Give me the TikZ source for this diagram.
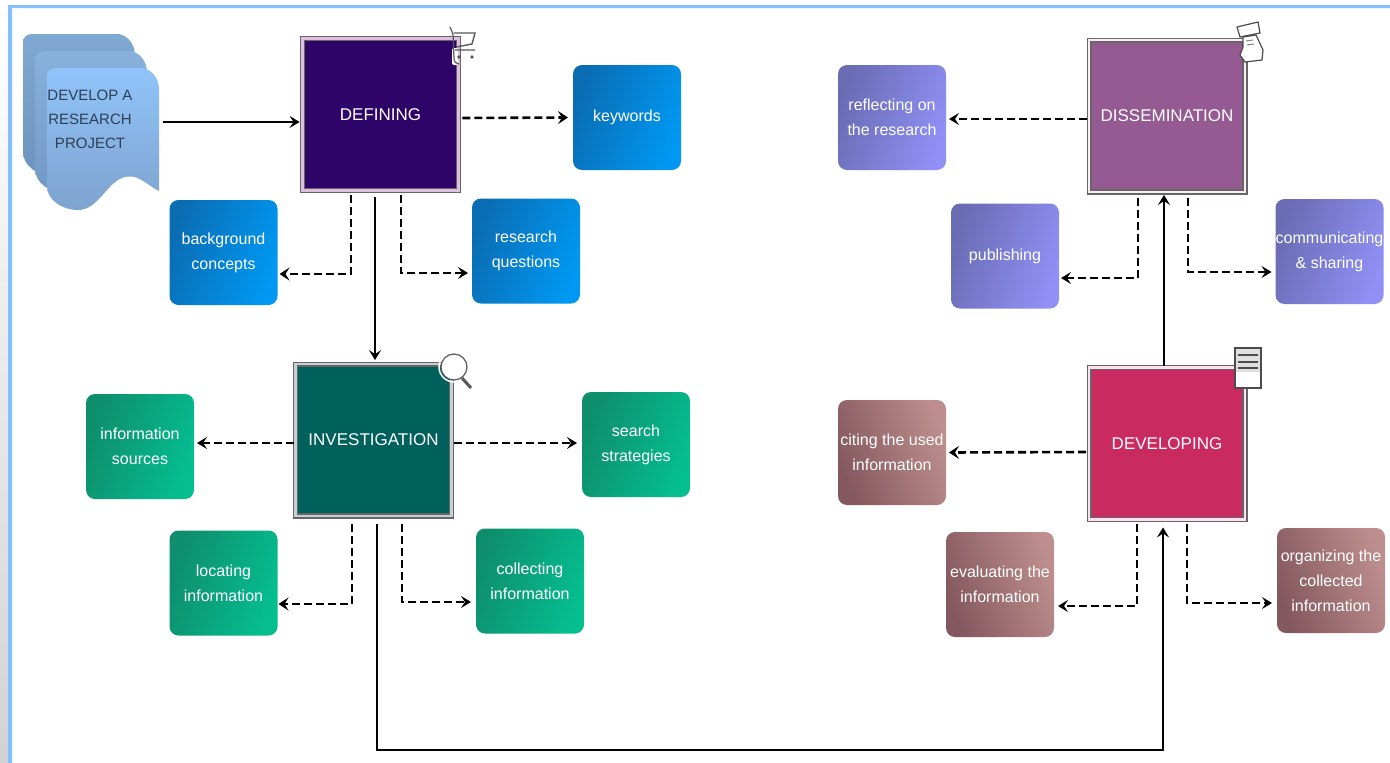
\documentclass[tikz,border=0pt]{standalone}
\usepackage{fontspec}
\setmainfont{Liberation Sans}
\usetikzlibrary{arrows.meta}
\definecolor{edgeblue}{HTML}{85BFFF}
\definecolor{definefill}{HTML}{2F0468}
\definecolor{investfill}{HTML}{00605C}
\definecolor{dissemfill}{HTML}{965A92}
\definecolor{developfill}{HTML}{C92A60}
\definecolor{projecttext}{HTML}{2F3F55}
\definecolor{blueA}{HTML}{0A6DB4}
\definecolor{blueB}{HTML}{0098F2}
\definecolor{greenA}{HTML}{0E8E6C}
\definecolor{greenB}{HTML}{05BE90}
\definecolor{purpleA}{HTML}{6A6CB4}
\definecolor{purpleB}{HTML}{9090F5}
\definecolor{brownA}{HTML}{84585F}
\definecolor{brownB}{HTML}{BD8E8D}
\tikzset{
  stage/.style={draw=gray!80!black,line width=1.3pt,double distance=2.6pt,inner sep=0pt,outer sep=0pt,
    minimum width=155.8pt,minimum height=151.8pt,text=white,font={\fontsize{17}{20}\selectfont}},
  task/.style={rounded corners=9pt,inner sep=0pt,outer sep=0pt,minimum width=108pt,minimum height=105pt,
    align=center,text=white,font={\fontsize{16}{25}\selectfont}},
  bluetask/.style={task,left color=blueA,right color=blueB,shading angle=70},
  greentask/.style={task,left color=greenA,right color=greenB,shading angle=70},
  purpletask/.style={task,left color=purpleA,right color=purpleB,shading angle=70},
  browntask/.style={task,left color=brownA,right color=brownB,shading angle=110},
  mainline/.style={draw=black,line width=2pt,arrows={-Stealth[length=10pt,width=12pt,inset=4pt]}},
  dashthin/.style={draw=black,line width=1.7pt,dash pattern=on 8pt off 4pt,arrows={-Stealth[length=10pt,width=12pt,inset=4pt]}},
  dashthick/.style={draw=black,line width=2.6pt,dash pattern=on 8pt off 4pt,arrows={-Stealth[length=10pt,width=13pt,inset=4pt]}},
  iconline/.style={draw=gray!70!black,line width=1.2pt,fill=white},
}
\begin{document}
\begin{tikzpicture}[x=1pt,y=-1pt]
\useasboundingbox (0,0) rectangle (1390,763);
\fill[white] (0,0) rectangle (1390,763);
\shade[top color=white,bottom color=gray!35] (0,5) rectangle (8,763);
\fill[edgeblue] (8,763) -- (8,5) -- (1390,5) -- (1390,8) -- (12,8) -- (12,763) -- cycle;
\foreach \dx/\dy/\shadeA/\shadeB in {-24/-34/7FA8D2/6C94BE,-12/-17/88B1DC/7299C6,0/0/90C4FA/7EA3CF} {
  \definecolor{stacktop}{HTML}{\shadeA}
  \definecolor{stackbot}{HTML}{\shadeB}
  \shade[top color=stacktop,bottom color=stackbot,shift={(\dx pt,-\dy pt)}]
    (47,78) .. controls (47,71) and (50,68) .. (57,68) -- (143,68)
    .. controls (152,70) and (159,78) .. (159,90) -- (159,191)
    .. controls (145,184) and (137,172) .. (122,178)
    .. controls (106,184) and (98,210) .. (78,210)
    .. controls (62,210) and (47,200) .. (47,186) -- cycle;
}
\node[align=center,text=projecttext,font={\fontsize{15}{24}\selectfont},minimum width=112pt,inner sep=0pt] (project) at (90,119) {DEVELOP A\\RESEARCH\\PROJECT};
\node[stage,fill=definefill,double=violet!25] (defining) at (380.5,114.5) {DEFINING};
\node[stage,fill=investfill,double=cyan!15!gray!45] (investigation) at (373.5,440) {INVESTIGATION};
\node[stage,fill=dissemfill,double=magenta!8] (dissemination) at (1167,116) {DISSEMINATION};
\node[stage,fill=developfill,double=magenta!12] (developing) at (1167,443.5) {DEVELOPING};
\node[bluetask] (keywords) at (627,117.5) {keywords};
\node[bluetask] (background) at (223.5,252.5) {background\\concepts};
\node[bluetask] (questions) at (526,251) {research\\questions};
\node[greentask] (sources) at (140,446.5) {information\\sources};
\node[greentask] (strategies) at (636,444.5) {search\\strategies};
\node[greentask] (locating) at (223.5,583) {locating\\information};
\node[greentask] (collecting) at (530,581) {collecting\\information};
\node[purpletask] (reflecting) at (892,117.5) {reflecting on\\the research};
\node[purpletask] (publishing) at (1005,256) {publishing};
\node[purpletask] (communicating) at (1329.5,251.5) {communicating\\\& sharing};
\node[browntask] (citing) at (892,452.5) {citing the used\\information};
\node[browntask] (evaluating) at (1000,584.5) {evaluating the\\information};
\node[browntask] (organizing) at (1331,580.5) {organizing the\\collected\\information};
\draw[mainline] ([shift={(17pt,-3pt)}]project.east) -- ([shift={(-3pt,-7.5pt)}]defining.west);
\draw[mainline] ([shift={(-5.5pt,-7pt)}]defining.south) -- ([xshift=1.5pt,yshift=4pt]investigation.north);
\draw[mainline] ([shift={(3.5pt,-8pt)}]investigation.south) |- (1163,750) -- ([shift={(-4pt,-8pt)}]developing.south);
\draw[mainline] ([shift={(-3pt,2pt)}]developing.north) -- ([shift={(-3pt,-3pt)}]dissemination.south);
\draw[dashthick] ([shift={(4pt,-3.5pt)}]defining.east) -- ([xshift=-5pt]keywords.west);
\draw[dashthick] ([shift={(-29.5pt,-5pt)}]defining.south) |- ([shift={(2pt,-21.5pt)}]background.east);
\draw[dashthin] ([shift={(20.5pt,-5pt)}]defining.south) |- ([shift={(-4pt,-22pt)}]questions.west);
\draw[dashthin] ([shift={(-2pt,-3pt)}]investigation.west) -- ([shift={(3pt,3.5pt)}]sources.east);
\draw[dashthin] ([shift={(3pt,-3pt)}]investigation.east) -- ([shift={(-5pt,1.5pt)}]strategies.west);
\draw[dashthick] ([shift={(-21.5pt,-8pt)}]investigation.south) |- ([shift={(1pt,-21pt)}]locating.east);
\draw[dashthin] ([shift={(28.5pt,-8pt)}]investigation.south) |- ([shift={(-5pt,-21pt)}]collecting.west);
\draw[dashthin] ([shift={(-2pt,-3pt)}]dissemination.west) -- ([shift={(3pt,-1.5pt)}]reflecting.east);
\draw[dashthin] ([shift={(-29pt,-6pt)}]dissemination.south) |- ([shift={(2pt,-22pt)}]publishing.east);
\draw[dashthin] ([shift={(21pt,-6pt)}]dissemination.south) |- ([shift={(-4pt,-20.5pt)}]communicating.west);
\draw[dashthick] ([shift={(-3pt,-8.5pt)}]developing.west) -- ([xshift=3pt]citing.east);
\draw[dashthin] ([shift={(-30pt,-5pt)}]developing.south) |- ([shift={(4pt,-21.5pt)}]evaluating.east);
\draw[dashthin] ([shift={(20pt,-5pt)}]developing.south) |- ([shift={(-5pt,-22.5pt)}]organizing.west);
\fill[white,rounded corners=2pt] (452,48) rectangle (458,65);
\draw[gray!70!black,line width=1.2pt] (450,27) -- (453,34) -- (454,58) .. controls (454,62) and (456,64) .. (459,64);
\draw[gray!70!black,line width=1.4pt] (454,33) -- (475,33) -- (472,44) -- (456,47) (455,50) -- (475,50);
\fill[gray!70!black] (459,57) circle (1.8pt) (472,57) circle (1.8pt);
\draw[iconline,fill=none,line width=1.5pt,white] (454,367) circle (15pt);
\draw[iconline,fill=white] (454,367) circle (13pt);
\draw[gray!70!black,line width=3pt] (462,378) -- (471,388);
\draw[iconline,draw=black!70] (1237,27) -- (1258,22) -- (1260,33) -- (1240,37) -- cycle;
\draw[iconline,draw=black!70] (1243,37) -- (1256,35) -- (1263,50) -- (1262,60) -- (1245,62) -- (1240,55) -- (1243,47) -- cycle;
\draw[gray,line width=1pt] (1246,41) -- (1253,40) (1247,45) -- (1254,44);
\draw[iconline,draw=gray!60!black,line width=1.5pt] (1235,348) rectangle (1261,388);
\fill[gray!25] (1236,349) rectangle (1260,372);
\draw[gray!60!black,line width=1.5pt] (1238,355) -- (1258,355) (1238,362) -- (1258,362) (1238,368) -- (1258,368);
\end{tikzpicture}
\end{document}
